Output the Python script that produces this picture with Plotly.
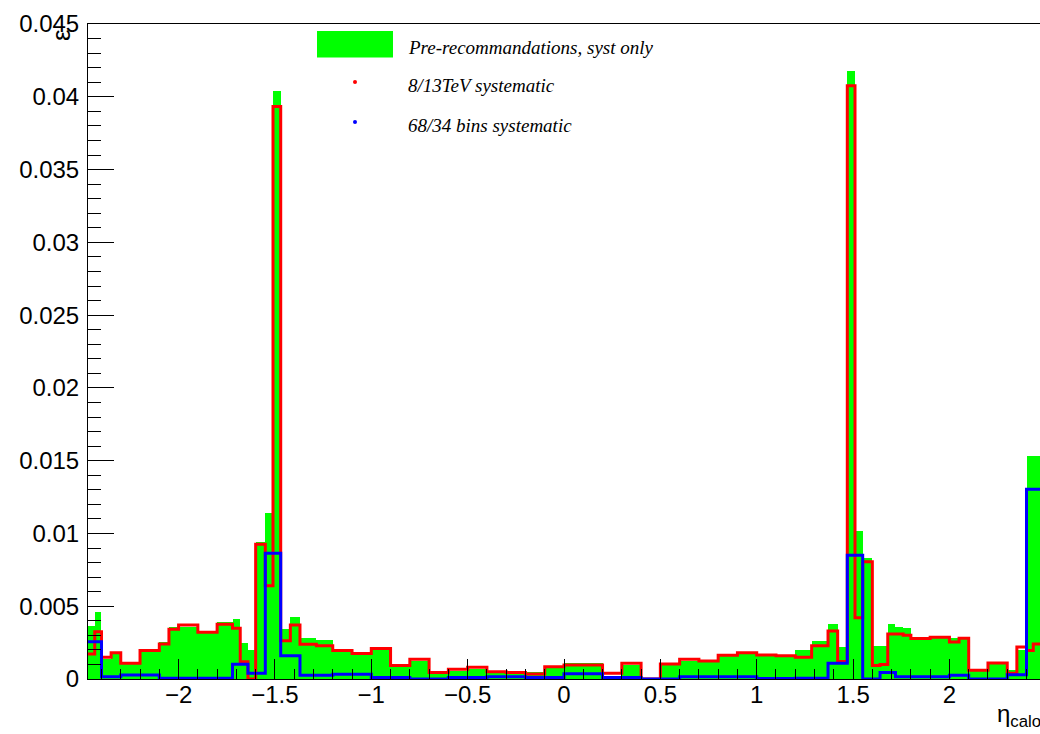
import plotly.graph_objects as go

# Fine eta binning (pre-recommendations and 8/13 TeV systematic)
eta_edges = [-2.47, -2.435, -2.4, -2.35, -2.3, -2.2, -2.1, -2.05, -2.0, -1.9, -1.8,
             -1.76, -1.72, -1.68, -1.64, -1.6, -1.55, -1.51, -1.47, -1.42, -1.37,
             -1.285, -1.2, -1.1, -1.0, -0.9, -0.8, -0.7, -0.6, -0.5, -0.4, -0.3,
             -0.2, -0.1, 0.0, 0.1, 0.2, 0.3, 0.4, 0.5, 0.6, 0.7, 0.8, 0.9, 1.0,
             1.1, 1.2, 1.285, 1.37, 1.42, 1.47, 1.51, 1.55, 1.6, 1.64, 1.68, 1.72,
             1.76, 1.8, 1.9, 2.0, 2.05, 2.1, 2.2, 2.3, 2.35, 2.4, 2.435, 2.47]

pre_reco_syst = [0.00364, 0.00458, 0.00135, 0.0017, 0.0011, 0.00185, 0.00256, 0.00355,
                 0.0036, 0.0033, 0.0039, 0.0039, 0.0041, 0.0025, 0.002, 0.00944, 0.0114,
                 0.0404, 0.00341, 0.00428, 0.0028, 0.0027, 0.00188, 0.0017, 0.002, 0.0008,
                 0.00124, 0.00044, 0.00055, 0.0007, 0.00044, 0.0004, 0.0005, 0.0009,
                 0.00108, 0.00108, 0.00023, 0.00096, 0.0, 0.001, 0.00126, 0.0012, 0.00155,
                 0.0018, 0.00172, 0.00165, 0.002, 0.0026, 0.0038, 0.0022, 0.0418, 0.0102,
                 0.0083, 0.00227, 0.00227, 0.0038, 0.0036, 0.0035, 0.0029, 0.0029, 0.0028,
                 0.0029, 0.0007, 0.00115, 0.0006, 0.002, 0.0153, 0.0153]

syst_8_13TeV = [0.00172, 0.00325, 0.00149, 0.00181, 0.00108, 0.00195, 0.0024, 0.00341,
                0.00371, 0.00321, 0.00376, 0.00376, 0.00348, 0.00119, 0.0, 0.00926, 0.0064,
                0.03933, 0.00263, 0.00371, 0.00238, 0.00229, 0.00195, 0.00176, 0.0021,
                0.00092, 0.00135, 0.00044, 0.00067, 0.0008, 0.0005, 0.00045, 0.00034,
                0.00085, 0.00096, 0.00096, 0.00039, 0.00108, 0.0, 0.00103, 0.00135, 0.00124,
                0.00163, 0.0018, 0.00165, 0.0016, 0.0015, 0.00228, 0.0033, 0.0012, 0.04076,
                0.00421, 0.00806, 0.00092, 0.001, 0.0031, 0.0031, 0.003, 0.00278, 0.00287,
                0.00254, 0.0028, 0.0006, 0.0011, 0.0004, 0.0022, 0.00195, 0.0024]

# Coarse binning (68/34 bins systematic)
eta_edges_coarse = [-2.47, -2.4, -2.3, -2.1, -2.0, -1.72, -1.64, -1.55, -1.47, -1.37, -1.2,
                    -1.0, -0.8, -0.6, -0.4, -0.2, 0.0, 0.2, 0.4, 0.6, 0.8, 1.0, 1.2, 1.37,
                    1.47, 1.55, 1.64, 1.72, 2.0, 2.1, 2.3, 2.4, 2.47]
syst_68_34bins = [0.00256, 0.00016, 0.00027, 0.00005, 0.00005, 0.00101, 0.0004, 0.00864,
                  0.0016, 0.00025, 0.00032, 0.0001, 0.0, 0.0001, 0.00016, 0.0001, 0.00036,
                  0.0001, 0.0, 0.00016, 0.00016, 0.00003, 0.00005, 0.00108, 0.0085, 0.0,
                  0.00044, 0.00016, 0.00025, 0.0, 0.0003, 0.01304]

legend_labels = ["Pre-recommandations, syst only", "8/13TeV systematic", "68/34 bins systematic"]

centers = [(a + b) / 2 for a, b in zip(eta_edges[:-1], eta_edges[1:])]
widths = [b - a for a, b in zip(eta_edges[:-1], eta_edges[1:])]

fig = go.Figure()
fig.add_trace(go.Bar(x=centers, y=pre_reco_syst, width=widths,
                     marker=dict(color="#00ff00", line=dict(width=0)),
                     showlegend=False, name=legend_labels[0]))
fig.add_trace(go.Scatter(x=eta_edges, y=syst_8_13TeV + [syst_8_13TeV[-1]],
                         mode="lines", line=dict(color="#ff0000", width=3, shape="hv"),
                         showlegend=False, name=legend_labels[1]))
fig.add_trace(go.Scatter(x=eta_edges_coarse, y=syst_68_34bins + [syst_68_34bins[-1]],
                         mode="lines", line=dict(color="#0000ff", width=3, shape="hv"),
                         showlegend=False, name=legend_labels[2]))

L, T, B = 88, 24, 55
W, H = 1040, 734
pw, ph = W - L, H - T - B

def px(x):
    return (x - L) / pw

def py(y):
    return (H - B - y) / ph

tickfont = dict(family="Liberation Sans, Arial, sans-serif", size=24, color="black")

fig.update_layout(
    width=W, height=H,
    margin=dict(l=L, r=0, t=T, b=B, pad=0),
    paper_bgcolor="white", plot_bgcolor="white",
    bargap=0,
    xaxis=dict(range=[-2.47, 2.47], showgrid=False, zeroline=False,
               showline=True, linecolor="black", linewidth=1, mirror=True,
               ticks="inside", ticklen=20, tickcolor="black", tickwidth=1,
               tick0=0, dtick=0.5, tickfont=tickfont, ticklabelstandoff=-6,
               minor=dict(ticks="inside", ticklen=10, dtick=0.1, tick0=0,
                          tickcolor="black", tickwidth=1, showgrid=False)),
    yaxis=dict(range=[0, 0.045], showgrid=False, zeroline=False,
               showline=True, linecolor="black", linewidth=1, mirror=True,
               ticks="inside", ticklen=26, tickcolor="black", tickwidth=1,
               tick0=0, dtick=0.005, tickfont=tickfont, ticklabelstandoff=3,
               minor=dict(ticks="inside", ticklen=13, dtick=0.001, tick0=0,
                          tickcolor="black", tickwidth=1, showgrid=False)),
)

legfont = dict(family="Liberation Serif, Times New Roman, serif", size=19, color="black")

shapes = [
    dict(type="rect", xref="paper", yref="paper", x0=px(317), x1=px(393),
         y0=py(57.5), y1=py(31), fillcolor="#00ff00", line=dict(width=0)),
    dict(type="circle", xref="paper", yref="paper", x0=px(353), x1=px(357),
         y0=py(84), y1=py(80), fillcolor="#ff0000", line=dict(width=0)),
    dict(type="circle", xref="paper", yref="paper", x0=px(353), x1=px(357),
         y0=py(124), y1=py(120), fillcolor="#0000ff", line=dict(width=0)),
]
fig.update_layout(shapes=shapes)

annotations = []
for label, yc in zip(legend_labels, [47, 86, 125]):
    annotations.append(dict(xref="paper", yref="paper", x=px(406), y=py(yc),
                            xanchor="left", yanchor="middle", showarrow=False,
                            text="<i>" + label + "</i>", font=legfont))
annotations.append(dict(xref="paper", yref="paper", x=px(61), y=py(35),
                        xanchor="center", yanchor="middle", showarrow=False,
                        text="ε", textangle=-90,
                        font=dict(family="Liberation Sans, Arial, sans-serif", size=26, color="black")))
annotations.append(dict(xref="paper", yref="paper", x=px(995), y=py(716),
                        xanchor="left", yanchor="middle", showarrow=False,
                        text="η<sub>calo</sub>",
                        font=dict(family="Liberation Sans, Arial, sans-serif", size=24, color="black")))
fig.update_layout(annotations=annotations)

fig.write_html("out.html")
